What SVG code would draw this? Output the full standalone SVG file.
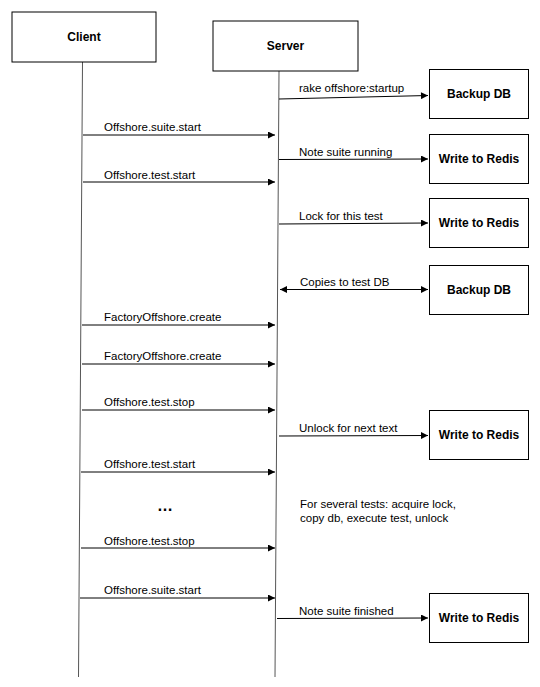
<svg xmlns="http://www.w3.org/2000/svg" width="540" height="687" viewBox="0 0 540 687">
<defs>
<marker id="ah" viewBox="0 0 10 10" refX="10" refY="5" markerWidth="8" markerHeight="7" markerUnits="userSpaceOnUse" orient="auto-start-reverse">
<path d="M0,0 L10,5 L0,10 Z" fill="#000"/>
</marker>
</defs>
<style>
.box{fill:#fff;stroke:#000;stroke-width:1}
.life{stroke:#555;stroke-width:1;fill:none}
.msg{stroke:#000;stroke-width:1;fill:none;marker-end:url(#ah)}
.bl{font-family:"Liberation Sans",Arial,sans-serif;font-size:12px;font-weight:bold;text-anchor:middle;dominant-baseline:central;fill:#000}
.lb{font-family:"Liberation Sans",Arial,sans-serif;font-size:11.5px;fill:#000}
</style>
<rect width="540" height="687" fill="#fff"/>
<g id="lifelines">
<line class="life" x1="82.5" y1="62" x2="78.5" y2="677"/>
<line class="life" x1="279" y1="71" x2="275" y2="677"/>
</g>
<g id="client"><rect class="box" x="12" y="12" width="144" height="50"/><text class="bl" x="84" y="37">Client</text></g>
<g id="server"><rect class="box" x="213" y="21" width="145" height="50"/><text class="bl" x="285.5" y="46">Server</text></g>
<g id="backup1"><rect class="box" x="429.5" y="69.5" width="99" height="49"/><text class="bl" x="479" y="94">Backup DB</text></g>
<g id="redis1"><rect class="box" x="429.5" y="134.5" width="99" height="49"/><text class="bl" x="479" y="159">Write to Redis</text></g>
<g id="redis2"><rect class="box" x="429.5" y="198.5" width="99" height="49"/><text class="bl" x="479" y="223">Write to Redis</text></g>
<g id="backup2"><rect class="box" x="429.5" y="265.5" width="99" height="49"/><text class="bl" x="479" y="290">Backup DB</text></g>
<g id="redis3"><rect class="box" x="429.5" y="410.5" width="99" height="49"/><text class="bl" x="479" y="435">Write to Redis</text></g>
<g id="redis4"><rect class="box" x="429.5" y="593.5" width="99" height="49"/><text class="bl" x="479" y="618">Write to Redis</text></g>
<g id="connectors">
<line class="msg" x1="279" y1="99" x2="428" y2="95.5"/>
<line class="msg" x1="83" y1="135" x2="275" y2="135"/>
<line class="msg" x1="279" y1="159.5" x2="428" y2="159"/>
<line class="msg" x1="83" y1="182" x2="275" y2="182"/>
<line class="msg" x1="279" y1="224" x2="428" y2="223"/>
<line class="msg" x1="280" y1="289.5" x2="428" y2="289.5" marker-start="url(#ah)"/>
<line class="msg" x1="82" y1="325" x2="275" y2="325"/>
<line class="msg" x1="82" y1="364" x2="275" y2="364"/>
<line class="msg" x1="82" y1="410" x2="275" y2="410"/>
<line class="msg" x1="279" y1="436" x2="428" y2="435.5"/>
<line class="msg" x1="81" y1="472" x2="275" y2="472"/>
<line class="msg" x1="81" y1="548" x2="275" y2="548"/>
<line class="msg" x1="80" y1="598" x2="275" y2="598"/>
<line class="msg" x1="277" y1="618.5" x2="428" y2="618"/>
</g>
<g id="labels">
<text class="lb" x="299" y="91.5">rake offshore:startup</text>
<text class="lb" x="104" y="131">Offshore.suite.start</text>
<text class="lb" x="299" y="156">Note suite running</text>
<text class="lb" x="104" y="178.5">Offshore.test.start</text>
<text class="lb" x="299" y="220">Lock for this test</text>
<text class="lb" x="300" y="286">Copies to test DB</text>
<text class="lb" x="104" y="321">FactoryOffshore.create</text>
<text class="lb" x="104" y="360">FactoryOffshore.create</text>
<text class="lb" x="104" y="406">Offshore.test.stop</text>
<text class="lb" x="299" y="432">Unlock for next text</text>
<text class="lb" x="104" y="468">Offshore.test.start</text>
<text x="165" y="511" font-family="Liberation Sans,Arial,sans-serif" font-size="16" font-weight="bold" text-anchor="middle">…</text>
<text class="lb" x="300" y="508">For several tests: acquire lock,</text>
<text class="lb" x="300" y="522">copy db, execute test, unlock</text>
<text class="lb" x="104" y="544.5">Offshore.test.stop</text>
<text class="lb" x="104" y="593.5">Offshore.suite.start</text>
<text class="lb" x="299" y="614.5">Note suite finished</text>
</g>
</svg>
